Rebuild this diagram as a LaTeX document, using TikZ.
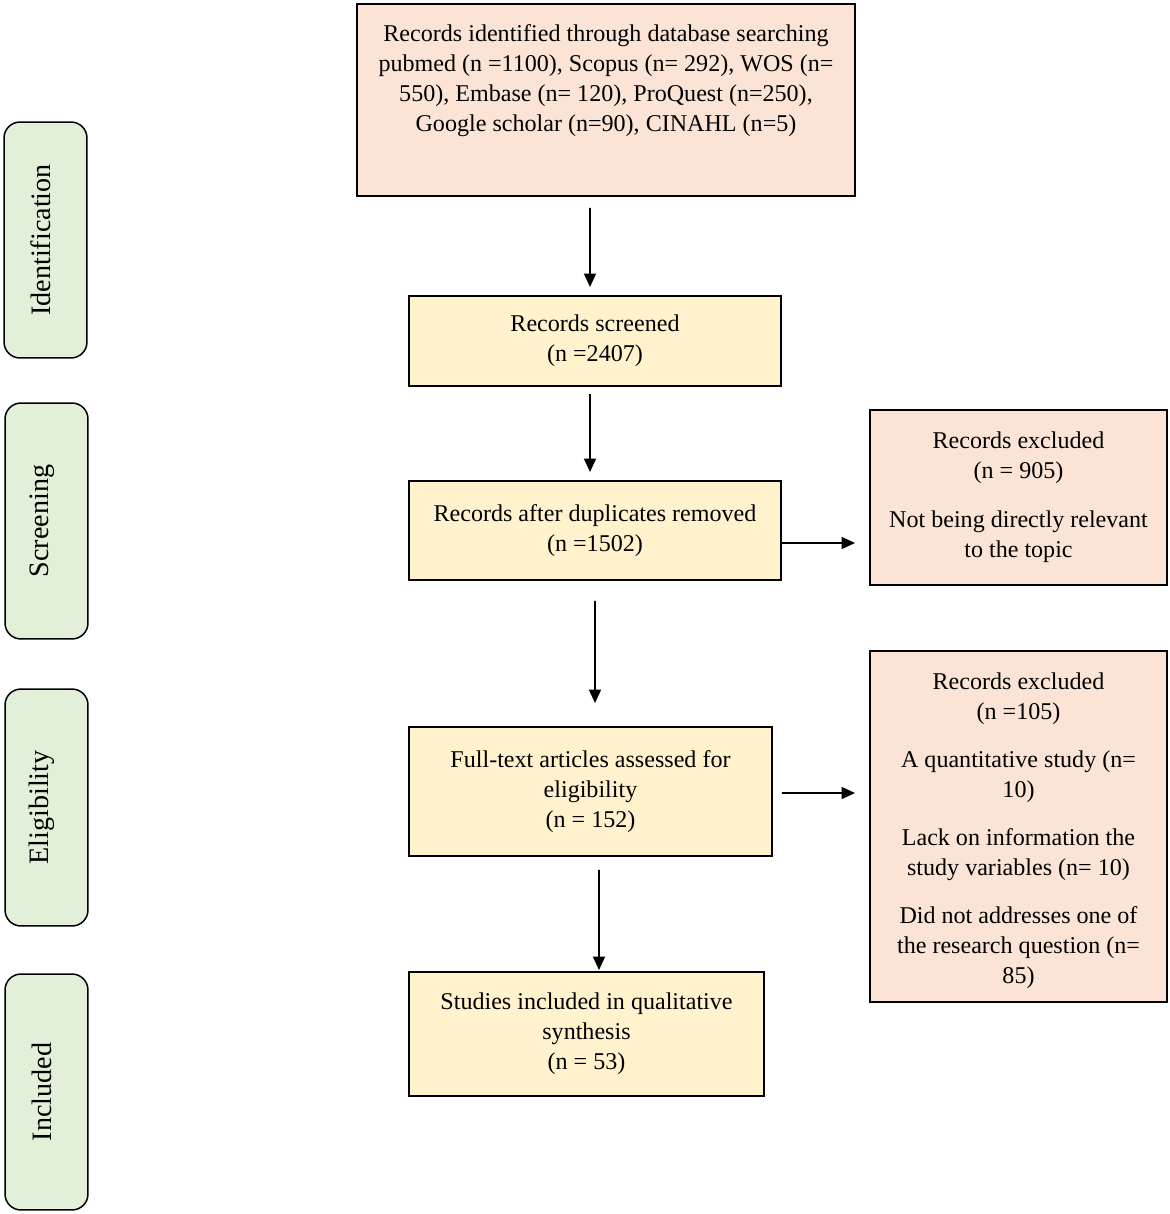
\documentclass[tikz,border=0pt]{standalone}
\usepackage{fontspec}
\setmainfont{Liberation Serif}
\usetikzlibrary{arrows.meta}
\definecolor{pinkf}{HTML}{FBE4D5}
\definecolor{yelf}{HTML}{FFF2CC}
\definecolor{grnf}{HTML}{E2EFD9}
\tikzset{
  base/.style={draw=black, line width=0.85pt, inner sep=0pt, outer sep=0pt, align=center,
    font=\fontsize{13.7}{17.1}\selectfont},
  pinkbox/.style={base, fill=pinkf},
  yelbox/.style={base, fill=yelf},
  sidebox/.style={base, fill=grnf, rounded corners=0.32cm, minimum width=1.66cm},
  sidetext/.style={inner sep=0pt, font=\fontsize{16}{19}\selectfont, rotate=90},
  txt/.style={inner sep=0pt, align=center, font=\fontsize{13.7}{17.1}\selectfont},
  arr/.style={line width=1.1pt, -{Triangle[length=0.27cm,width=0.24cm]}}
}
\begin{document}
\begin{tikzpicture}[x=0.02cm,y=-0.02cm]
\useasboundingbox (0,0) rectangle (1170,1214);
% side boxes
\node[sidebox, minimum height=4.72cm] (sid) at (45.5,240) {};
\node[sidetext] (sidt) at (41,240) {Identification};
\node[sidebox, minimum height=4.72cm] (ssc) at (46.5,521) {};
\node[sidetext] (ssct) at (42,521) {Screening};
\node[sidebox, minimum height=4.74cm] (sel) at (46.5,807.5) {};
\node[sidetext] (selt) at (42,807.5) {Eligibility};
\node[sidebox, minimum height=4.72cm] (sin) at (46.5,1092) {};
\node[sidetext] (sint) at (42,1092) {Included};
% main boxes
\node[pinkbox, minimum width=9.96cm, minimum height=3.84cm] (top) at (606,100) {};
\node[txt] (topt) at (606,81) {Records identified through database searching\\
pubmed (n =1100), Scopus (n= 292), WOS (n=\\
550), Embase (n= 120), ProQuest (n=250),\\
Google scholar (n=90), CINAHL (n=5)};
\node[yelbox, minimum width=7.44cm, minimum height=1.8cm] (scr) at (595,341) {Records screened\\(n =2407)};
\node[yelbox, minimum width=7.44cm, minimum height=1.98cm] (dup) at (595,530.5) {Records after duplicates removed\\(n =1502)};
\node[pinkbox, minimum width=5.94cm, minimum height=3.5cm] (ex1) at (1018.5,497.5) {Records excluded\\(n = 905)\\[0.38cm]Not being directly relevant\\to the topic};
\node[yelbox, minimum width=7.26cm, minimum height=2.58cm] (ft) at (590.5,791.5) {Full-text articles assessed for\\eligibility\\(n = 152)};
\node[pinkbox, minimum width=5.94cm, minimum height=7.02cm] (ex2) at (1018.5,826.5) {};
\node[txt] (ex2t) at (1018.5,830.5) {Records excluded\\(n =105)\\[0.36cm]A quantitative study (n=\\10)\\[0.36cm]Lack on information the\\study variables (n= 10)\\[0.36cm]Did not addresses one of\\the research question (n=\\85)};
\node[yelbox, minimum width=7.1cm, minimum height=2.48cm] (st) at (586.5,1034) {Studies included in qualitative\\synthesis\\(n = 53)};
% arrows
\draw[arr] ([xshift=-0.32cm,yshift=-0.24cm]top.south) -- ([xshift=-0.1cm,yshift=0.18cm]scr.north);
\draw[arr] ([xshift=-0.1cm,yshift=-0.16cm]scr.south) -- ([xshift=-0.1cm,yshift=0.18cm]dup.north);
\draw[arr] ([yshift=-0.42cm]dup.south) -- ([xshift=0.09cm,yshift=0.48cm]ft.north);
\draw[arr] ([xshift=0.17cm,yshift=-0.28cm]ft.south) -- ([xshift=0.25cm,yshift=0.04cm]st.north);
\draw[arr] ([yshift=-0.25cm]dup.east) -- ([xshift=-0.3cm,yshift=-0.91cm]ex1.west);
\draw[arr] ([xshift=0.2cm,yshift=-0.03cm]ft.east) -- ([xshift=-0.3cm,yshift=0.67cm]ex2.west);
\end{tikzpicture}
\end{document}
